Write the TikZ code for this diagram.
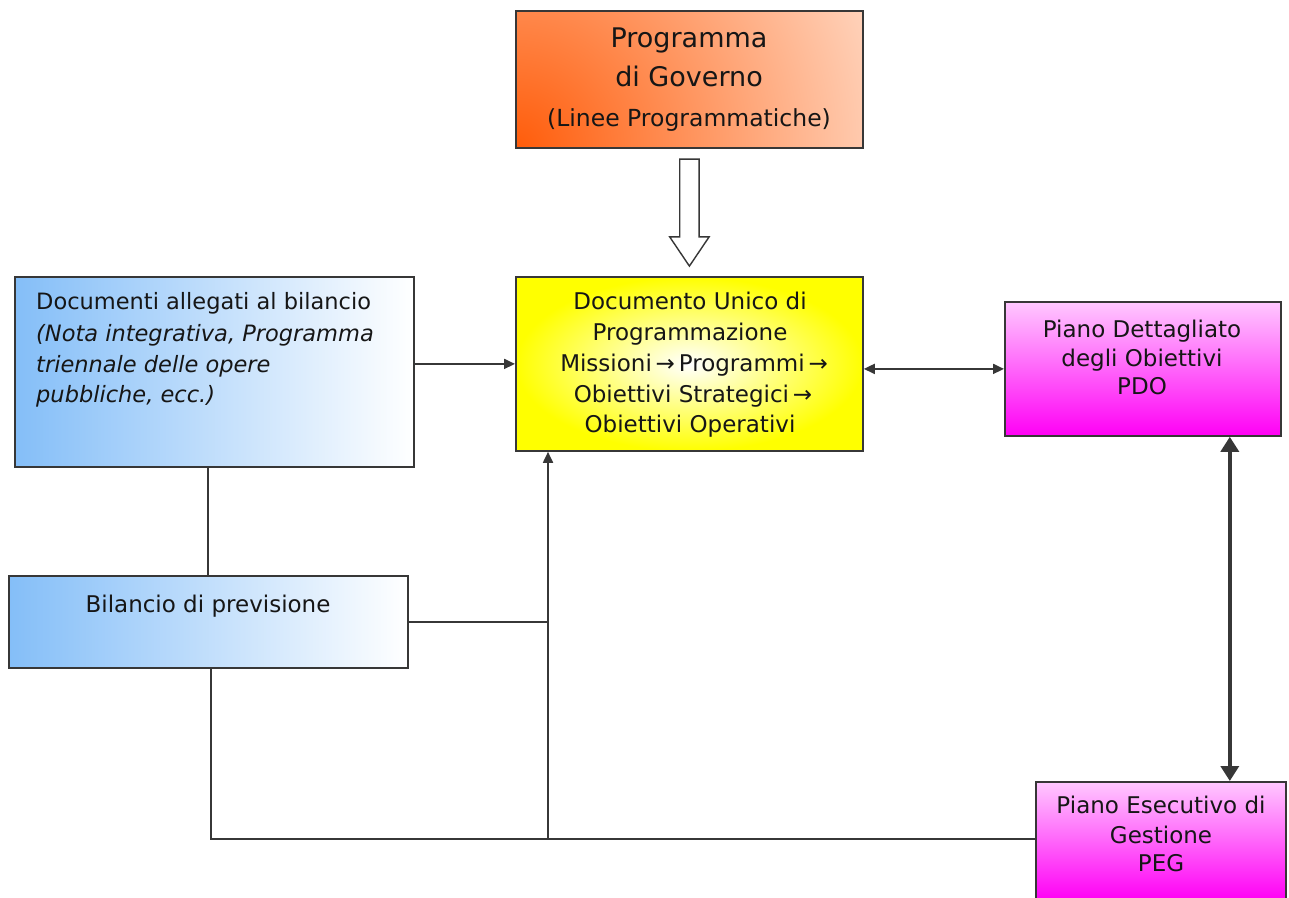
\documentclass[tikz,border=0pt]{standalone}
\usepackage{fontspec}
\setmainfont{DejaVu Sans}
\usetikzlibrary{arrows.meta,shapes.arrows,calc,backgrounds}
\definecolor{linec}{RGB}{55,55,55}
\definecolor{textc}{RGB}{22,22,22}
\definecolor{orgdeep}{RGB}{255,92,10}
\definecolor{peach}{RGB}{255,218,198}
\definecolor{yel}{RGB}{255,255,0}
\definecolor{blu}{RGB}{132,190,248}
\definecolor{pinkl}{RGB}{255,200,255}
\definecolor{magn}{RGB}{255,0,245}
\begin{document}
\begin{tikzpicture}[x=1pt,y=-1pt,
  box/.style={draw=linec, line width=1.8pt, inner sep=0pt, anchor=north west},
  txt/.style={text=textc, inner sep=0pt, font=\fontsize{23}{23}\selectfont},
  conn/.style={draw=linec, line width=1.8pt},
  tipe/.style={-{Triangle[length=11pt,width=10pt]}},
  tipb/.style={{Triangle[length=11pt,width=10pt]}-{Triangle[length=11pt,width=10pt]}},
  tipthick/.style={{Triangle[length=15pt,width=18pt]}-{Triangle[length=15pt,width=18pt]}}
]
\useasboundingbox (0,0) rectangle (1289,897);
\begin{pgfonlayer}{background}
\fill[white] (0,0) rectangle (1289,897);
\end{pgfonlayer}

% boxes
\node[box, minimum width=347pt, minimum height=137pt] (prog) at (515,10) {};
\begin{pgfonlayer}{background}
\begin{scope}
\clip (prog.north west) rectangle (prog.south east);
\shade[inner color=orgdeep, outer color=peach] (prog.south west) circle (400pt);
\end{scope}
\end{pgfonlayer}
\node[box, minimum width=347pt, minimum height=174pt,
      inner color=white, outer color=yel] (dup) at (515,276) {};
\node[box, minimum width=399pt, minimum height=190pt,
      left color=blu, right color=white] (docs) at (14,276) {};
\node[box, minimum width=399pt, minimum height=92pt,
      left color=blu, right color=white] (bil) at (8,575) {};
\node[box, minimum width=276pt, minimum height=134pt,
      top color=pinkl, bottom color=magn] (pdo) at (1004,301) {};
\node[box, minimum width=250pt, minimum height=118pt,
      top color=pinkl, bottom color=magn] (peg) at (1035,781) {};

% texts
\node[txt, anchor=base, font=\fontsize{27}{27}\selectfont] (pt1) at (689,47) {Programma};
\node[txt, anchor=base, font=\fontsize{27}{27}\selectfont] (pt2) at (689,86) {di Governo};
\node[txt, anchor=base, font=\fontsize{23.5}{23.5}\selectfont] (pt3) at (689,126) {(Linee Programmatiche)};

\node[txt, anchor=base west, font=\fontsize{22.5}{22.5}\selectfont] (dt1) at (36,309) {Documenti allegati al bilancio};
\node[txt, anchor=base west, font=\fontsize{22.5}{22.5}\selectfont\itshape] (dt2) at (36,341) {(Nota integrativa, Programma};
\node[txt, anchor=base west, font=\fontsize{22.5}{22.5}\selectfont\itshape] (dt3) at (36,372) {triennale delle opere};
\node[txt, anchor=base west, font=\fontsize{22.5}{22.5}\selectfont\itshape] (dt4) at (36,402) {pubbliche, ecc.)};

\node[txt, anchor=base] (ut1) at (690,309) {Documento Unico di};
\node[txt, anchor=base] (ut2) at (690,340) {Programmazione};
\node[txt, anchor=base] (ut3) at (694,371) {Missioni\,→\,Programmi\,→};
\node[txt, anchor=base] (ut4) at (693,402) {Obiettivi Strategici\,→};
\node[txt, anchor=base] (ut5) at (690,432) {Obiettivi Operativi};

\node[txt, anchor=base] (bt1) at (208,612) {Bilancio di previsione};

\node[txt, anchor=base] (ot1) at (1142,337) {Piano Dettagliato};
\node[txt, anchor=base] (ot2) at (1142,366) {degli Obiettivi};
\node[txt, anchor=base] (ot3) at (1142,394) {PDO};

\node[txt, anchor=base] (gt1) at (1161,813) {Piano Esecutivo di};
\node[txt, anchor=base] (gt2) at (1161,843) {Gestione};
\node[txt, anchor=base] (gt3) at (1161,871) {PEG};

% hollow arrow
\node[single arrow, draw=linec, line width=1.4pt, fill=white,
      inner xsep=0pt, inner ysep=9pt,
      minimum height=107pt, single arrow head extend=10pt,
      single arrow tip angle=68, rotate=-90] (harrow)
      at ($(prog.south)!0.5!(dup.north)+(0,-7)$) {};

% connectors
\draw[conn, tipe] (docs.east |- dup.west) -- (dup.west);
\draw[conn, tipb] (dup.east |- pdo.west) -- (pdo.west);
\draw[draw=linec, line width=3.5pt, tipthick]
  ([xshift=-52pt]pdo.south east) -- ([xshift=-52pt]pdo.south east |- peg.north);
\draw[conn] ([xshift=-0.5pt]bil.north) -- ([xshift=-0.5pt]bil.north |- docs.south);
\coordinate (trunk) at ([xshift=-487pt,yshift=2pt]peg.west);
\draw[conn] ([xshift=2.5pt]bil.south) |- (trunk) -- (trunk -| peg.west);
\draw[conn] (bil.east) -- (bil.east -| trunk);
\draw[conn, tipe] (trunk) -- (trunk |- dup.south);
\end{tikzpicture}
\end{document}
